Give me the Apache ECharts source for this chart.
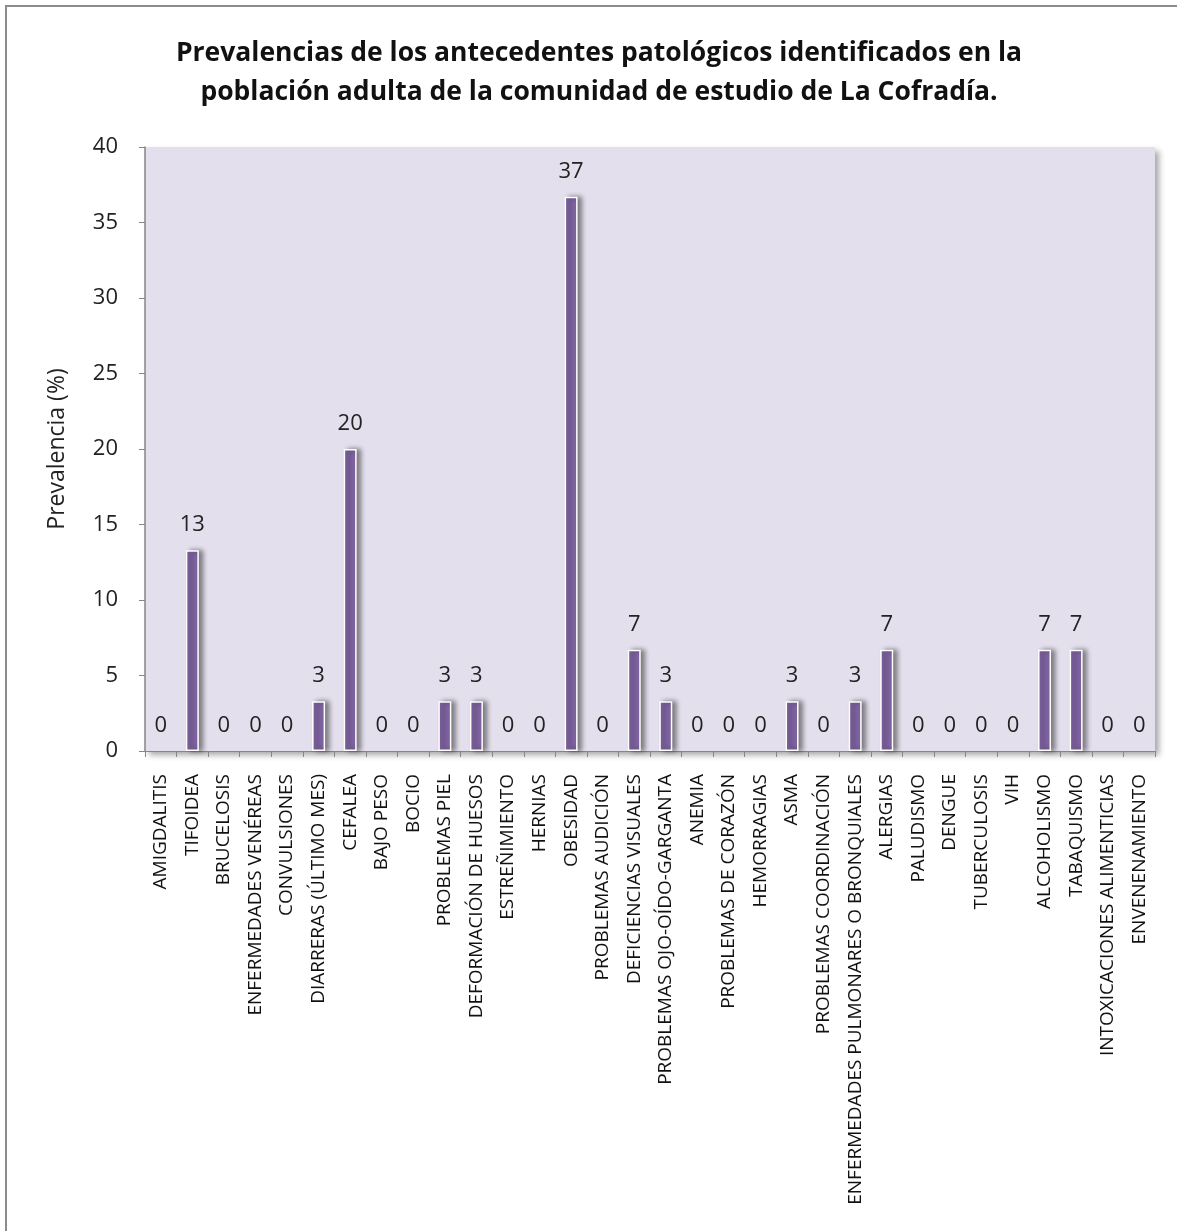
<!DOCTYPE html>
<html>
<head>
<meta charset="utf-8">
<script src="https://cdn.jsdelivr.net/npm/echarts@6/dist/echarts.min.js"></script>
<style>
  html, body { margin: 0; padding: 0; background: #fff; }
  #chart { width: 1177px; height: 1231px; }
</style>
</head>
<body>
<div id="chart"></div>
<script>
// Antecedentes patológicos (categorías del eje X)
const categories = [
  'AMIGDALITIS', 'TIFOIDEA', 'BRUCELOSIS', 'ENFERMEDADES VENÉREAS', 'CONVULSIONES',
  'DIARRERAS (ÚLTIMO MES)', 'CEFALEA', 'BAJO PESO', 'BOCIO', 'PROBLEMAS PIEL',
  'DEFORMACIÓN DE HUESOS', 'ESTREÑIMIENTO', 'HERNIAS', 'OBESIDAD', 'PROBLEMAS AUDICIÓN',
  'DEFICIENCIAS VISUALES', 'PROBLEMAS OJO-OÍDO-GARGANTA', 'ANEMIA', 'PROBLEMAS DE CORAZÓN',
  'HEMORRAGIAS', 'ASMA', 'PROBLEMAS COORDINACIÓN', 'ENFERMEDADES PULMONARES O BRONQUIALES',
  'ALERGIAS', 'PALUDISMO', 'DENGUE', 'TUBERCULOSIS', 'VIH', 'ALCOHOLISMO', 'TABAQUISMO',
  'INTOXICACIONES ALIMENTICIAS', 'ENVENENAMIENTO'
];

// Prevalencia (%) por antecedente
const prevalencia = [
  0, 13.3, 0, 0, 0,
  3.3, 20, 0, 0, 3.3,
  3.3, 0, 0, 36.7, 0,
  6.7, 3.3, 0, 0,
  0, 3.3, 0, 3.3,
  6.7, 0, 0, 0, 0, 6.7, 6.7,
  0, 0
];

// Marcas del eje Y
const yTicks = [0, 5, 10, 15, 20, 25, 30, 35, 40];

const titleText = 'Prevalencias de los antecedentes patológicos identificados en la\npoblación adulta de la comunidad de estudio de La Cofradía.';

// Bars with value 0 get no outline or shadow, so only their label shows
const barData = prevalencia.map(v => v === 0
  ? { value: v, itemStyle: { borderWidth: 0, shadowBlur: 0, shadowOffsetX: 0, shadowColor: 'rgba(0,0,0,0)' } }
  : { value: v });

const chart = echarts.init(document.getElementById('chart'), null, { renderer: 'canvas' });

const option = {
  backgroundColor: '#ffffff',
  animation: false,
  graphic: [{
    type: 'rect',
    shape: { x: 6, y: 6, width: 1200, height: 1300 },
    style: { fill: 'none', stroke: '#8c8c8c', lineWidth: 2 },
    silent: true
  }],
  title: {
    text: titleText,
    left: 594,
    top: 29,
    textAlign: 'center',
    textStyle: {
      fontFamily: 'Open Sans',
      fontWeight: 'bold',
      fontSize: 26.5,
      lineHeight: 39,
      color: '#111'
    }
  },
  grid: {
    left: 145,
    right: 22,
    top: 147,
    bottom: 480,
    outerBoundsMode: 'none',
    containLabel: false,
    show: true,
    backgroundColor: '#E4DFEC',
    borderWidth: 0,
    shadowColor: 'rgba(0,0,0,0.35)',
    shadowBlur: 6,
    shadowOffsetX: 4,
    shadowOffsetY: 4
  },
  xAxis: {
    type: 'category',
    data: categories,
    boundaryGap: true,
    axisLine: { show: true, lineStyle: { color: '#868686', width: 1 } },
    axisTick: { show: true, interval: 0, alignWithLabel: false, length: 6, lineStyle: { color: '#868686' } },
    axisLabel: {
      interval: 0,
      rotate: 90,
      margin: 23,
      fontFamily: 'Open Sans',
      fontSize: 19,
      color: '#111'
    },
    splitLine: { show: false }
  },
  yAxis: {
    type: 'value',
    min: yTicks[0],
    max: yTicks[yTicks.length - 1],
    interval: yTicks[1] - yTicks[0],
    name: 'Prevalencia (%)',
    nameLocation: 'middle',
    nameGap: 76,
    nameRotate: 90,
    nameTextStyle: { fontFamily: 'Open Sans', fontSize: 23, color: '#222' },
    axisLine: { show: true, lineStyle: { color: '#868686', width: 1.5 } },
    axisTick: { show: true, length: 6, lineStyle: { color: '#868686' } },
    axisLabel: {
      margin: 27,
      fontFamily: 'Open Sans',
      fontSize: 22,
      color: '#222'
    },
    splitLine: { show: false }
  },
  series: [{
    type: 'bar',
    data: barData,
    barWidth: 13,
    itemStyle: {
      color: '#8064A2',
      borderColor: '#ffffff',
      borderWidth: 1.5,
      shadowColor: 'rgba(0,0,0,0.45)',
      shadowBlur: 5,
      shadowOffsetX: 4,
      shadowOffsetY: 0
    },
    label: {
      show: true,
      position: 'top',
      distance: 14,
      fontFamily: 'Open Sans',
      fontSize: 22,
      color: '#222',
      formatter: p => String(Math.round(p.value))
    }
  }]
};

chart.setOption(option);
</script>
</body>
</html>
